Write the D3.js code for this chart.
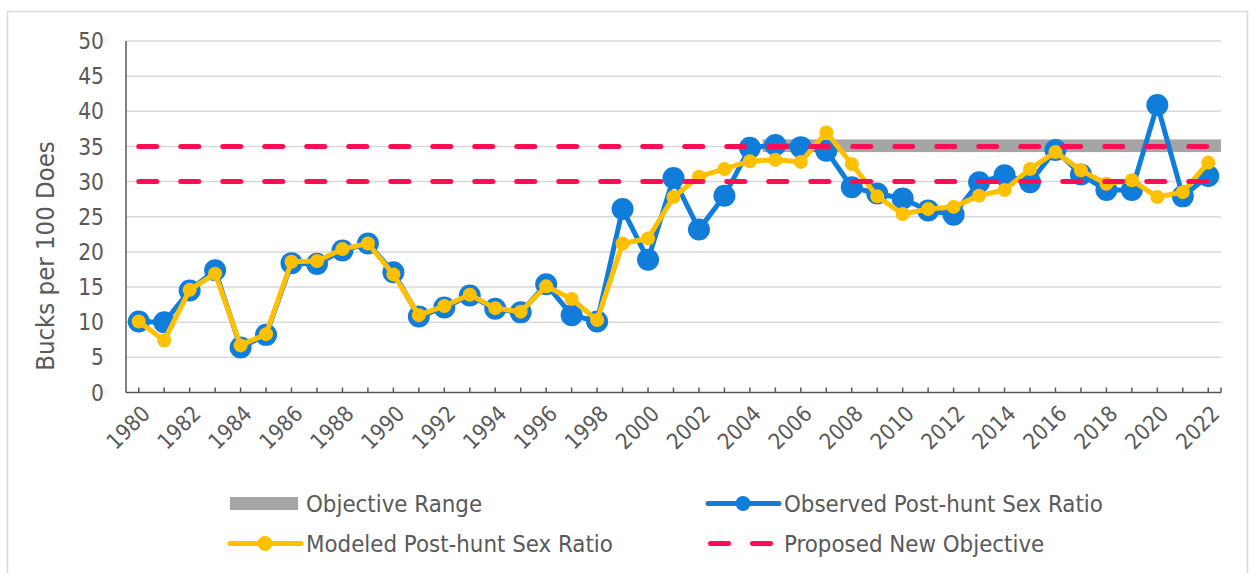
<!DOCTYPE html>
<html>
<head>
<meta charset="utf-8">
<script src="https://cdn.jsdelivr.net/npm/d3@7"></script>
<style>
  body { margin: 0; background: #fff; }
  svg { display: block; font-family: "DejaVu Sans Condensed", "DejaVu Sans", sans-serif; }
</style>
</head>
<body>
<svg id="chart"></svg>
<script>
// chart size
const width = 1250;
const height = 573;

// DATA
const years = d3.range(1980, 2023);

const observed = [
  10.1, 10.0, 14.5, 17.4, 6.4, 8.2, 18.4, 18.3, 20.2, 21.2,
  17.1, 10.8, 12.1, 13.8, 11.9, 11.4, 15.4, 11.0, 10.1, 26.1,
  18.9, 30.5, 23.2, 28.0, 34.8, 35.2, 34.9, 34.4, 29.2, 28.3,
  27.6, 25.9, 25.3, 29.9, 30.9, 29.9, 34.5, 31.0, 28.8, 28.8,
  40.9, 27.9, 30.8
];

const modeled = [
  10.1, 7.4, 14.6, 16.9, 6.7, 8.3, 18.6, 18.7, 20.4, 21.2,
  16.8, 11.0, 12.3, 13.9, 12.0, 11.5, 15.1, 13.3, 10.3, 21.2,
  21.9, 27.8, 30.7, 31.8, 32.9, 33.1, 32.8, 37.0, 32.5, 27.9,
  25.4, 26.1, 26.4, 28.0, 28.8, 31.8, 34.2, 31.6, 29.7, 30.2,
  27.8, 28.5, 32.7
];

// objective range band (2005 - 2022)
const objYears = d3.range(2005, 2023);
const objLow = 34.2;
const objHigh = 36;

// proposed new objective lines
const proposed = [30, 35];

const yTicks = d3.range(0, 51, 5);
const xLabelYears = years.filter((y) => y % 2 === 0);

const legendItems = [
  { name: "Objective Range", type: "band" },
  { name: "Observed Post-hunt Sex Ratio", type: "obs" },
  { name: "Modeled Post-hunt Sex Ratio", type: "mod" },
  { name: "Proposed New Objective", type: "dash" }
];

// colors
const blue = "#117ddb";
const gold = "#ffc000";
const red = "#ff0d55";
const grey = "#a5a5a5";
const textCol = "#595959";

const svg = d3.select("#chart").attr("width", width).attr("height", height);

// chart border
svg.append("rect")
  .attr("x", 7.5).attr("y", 11.5)
  .attr("width", 1240).attr("height", 580)
  .attr("fill", "none")
  .attr("stroke", "#d9d9d9")
  .attr("stroke-width", 1.5);

// SCALES
const plotLeft = 126;
const plotRight = 1221;

const xScale = d3.scaleBand().domain(years).range([plotLeft, plotRight]).padding(0);
const xc = (yr) => xScale(yr) + xScale.bandwidth() / 2;

const yScale = d3.scaleLinear().domain([0, 50]).range([392.5, 41]);

// gridlines
svg.append("g")
  .selectAll("line")
  .data(yTicks.filter((t) => t > 0))
  .enter()
  .append("line")
  .attr("x1", plotLeft).attr("x2", plotRight)
  .attr("y1", (d) => yScale(d)).attr("y2", (d) => yScale(d))
  .attr("stroke", "#d9d9d9")
  .attr("stroke-width", 1.5);

// y tick labels
svg.append("g")
  .selectAll("text")
  .data(yTicks)
  .enter()
  .append("text")
  .attr("x", 104)
  .attr("y", (d) => yScale(d))
  .attr("dy", "0.36em")
  .attr("text-anchor", "end")
  .attr("font-size", 22.5)
  .attr("fill", textCol)
  .text((d) => d);

// y title
svg.append("text")
  .attr("transform", "translate(45,256) rotate(-90)")
  .attr("text-anchor", "middle")
  .attr("dy", "0.36em")
  .attr("font-size", 25.5)
  .attr("fill", textCol)
  .text("Bucks per 100 Does");

// objective range band
svg.append("rect")
  .attr("x", xScale(objYears[0]))
  .attr("y", yScale(objHigh))
  .attr("width", xScale(objYears[objYears.length - 1]) + xScale.bandwidth() - xScale(objYears[0]))
  .attr("height", yScale(objLow) - yScale(objHigh))
  .attr("fill", grey);

// axes lines
svg.append("line")
  .attr("x1", plotLeft).attr("x2", plotLeft)
  .attr("y1", yScale(50)).attr("y2", yScale(0))
  .attr("stroke", "#595959").attr("stroke-width", 1.5);

svg.append("line")
  .attr("x1", plotLeft).attr("x2", plotRight)
  .attr("y1", yScale(0)).attr("y2", yScale(0))
  .attr("stroke", "#595959").attr("stroke-width", 1.5);

// x ticks (inward)
svg.append("g")
  .selectAll("line")
  .data(years)
  .enter()
  .append("line")
  .attr("x1", (d) => xc(d)).attr("x2", (d) => xc(d))
  .attr("y1", yScale(0)).attr("y2", yScale(0) - 5)
  .attr("stroke", "#595959").attr("stroke-width", 1.5);

svg.append("line")
  .attr("x1", plotRight).attr("x2", plotRight)
  .attr("y1", yScale(0)).attr("y2", yScale(0) - 5)
  .attr("stroke", "#595959").attr("stroke-width", 1.5);

// x labels
svg.append("g")
  .selectAll("text")
  .data(xLabelYears)
  .enter()
  .append("text")
  .attr("transform", (d) => `translate(${xc(d) + 7},${yScale(0) + 17}) rotate(-45)`)
  .attr("text-anchor", "end")
  .attr("dy", "0.36em")
  .attr("font-size", 22)
  .attr("fill", textCol)
  .text((d) => d);

// lines
const valLine = d3.line().x((d, i) => xc(years[i])).y((d) => yScale(d));

svg.append("path")
  .datum(observed)
  .attr("d", valLine)
  .attr("fill", "none")
  .attr("stroke", blue)
  .attr("stroke-width", 5)
  .attr("stroke-linejoin", "round");

svg.append("g")
  .selectAll("circle")
  .data(observed)
  .enter()
  .append("circle")
  .attr("cx", (d, i) => xc(years[i]))
  .attr("cy", (d) => yScale(d))
  .attr("r", 11)
  .attr("fill", blue);

svg.append("path")
  .datum(modeled)
  .attr("d", valLine)
  .attr("fill", "none")
  .attr("stroke", gold)
  .attr("stroke-width", 5)
  .attr("stroke-linejoin", "round");

svg.append("g")
  .selectAll("circle")
  .data(modeled)
  .enter()
  .append("circle")
  .attr("cx", (d, i) => xc(years[i]))
  .attr("cy", (d) => yScale(d))
  .attr("r", 7)
  .attr("fill", gold);

// proposed objective dashed lines
svg.append("g")
  .selectAll("line")
  .data(proposed)
  .enter()
  .append("line")
  .attr("x1", xc(years[0])).attr("x2", xc(years[years.length - 1]))
  .attr("y1", (d) => yScale(d)).attr("y2", (d) => yScale(d))
  .attr("stroke", red)
  .attr("stroke-width", 5)
  .attr("stroke-linecap", "round")
  .attr("stroke-dasharray", "18 24");

// LEGEND
const legendX = [230, 708];
const legendY = [503.5, 543.5];

const legend = svg.append("g")
  .selectAll("g")
  .data(legendItems)
  .enter()
  .append("g")
  .attr("transform", (d, i) => `translate(${legendX[i % 2]},${legendY[Math.floor(i / 2)]})`);

legend.each(function (d) {
  const g = d3.select(this);
  if (d.type === "band") {
    g.append("rect").attr("x", 0).attr("y", -6.5).attr("width", 68).attr("height", 13).attr("fill", grey);
  } else if (d.type === "dash") {
    g.append("line")
      .attr("x1", 2.5).attr("x2", 68)
      .attr("stroke", red).attr("stroke-width", 5)
      .attr("stroke-linecap", "round")
      .attr("stroke-dasharray", "18 24");
  } else {
    const c = d.type === "obs" ? blue : gold;
    g.append("line").attr("x1", 0).attr("x2", 71)
      .attr("stroke", c).attr("stroke-width", 5).attr("stroke-linecap", "round");
    g.append("circle").attr("cx", 35).attr("r", 7.5).attr("fill", c);
  }
  g.append("text")
    .attr("x", 76)
    .attr("dy", "0.36em")
    .attr("font-size", 23.8)
    .attr("fill", textCol)
    .text(d.name);
});
</script>
</body>
</html>
